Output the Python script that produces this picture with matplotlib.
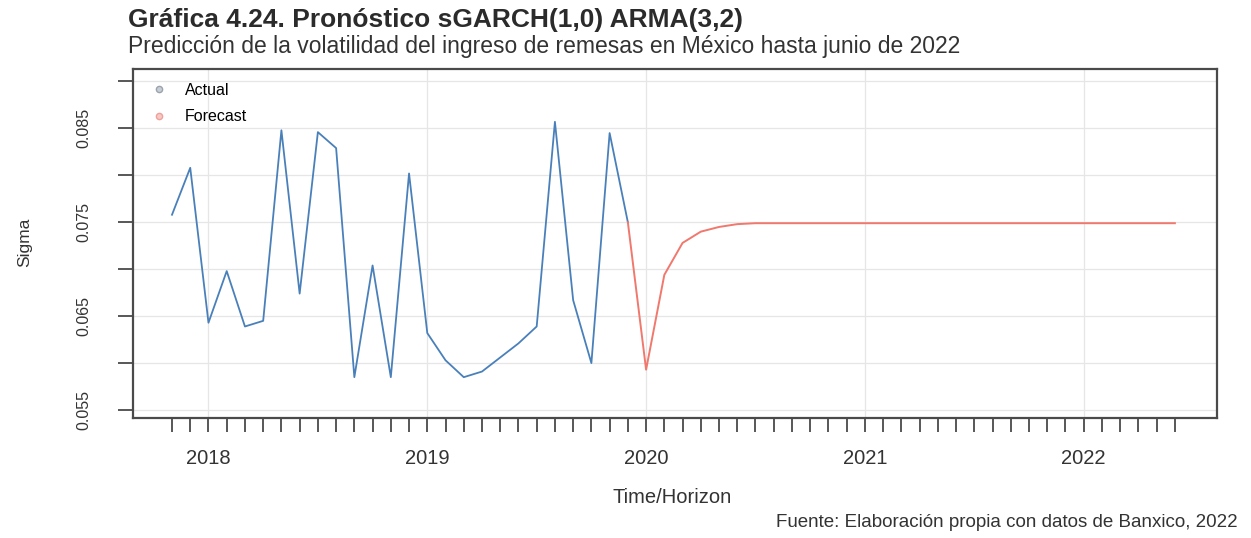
import matplotlib
matplotlib.use("Agg")
import matplotlib.pyplot as plt
from matplotlib.lines import Line2D
from matplotlib.ticker import FixedLocator, FixedFormatter
import pandas as pd

plt.rcParams["font.family"] = ["Liberation Sans", "DejaVu Sans"]

# Estimated conditional volatility (sigma), monthly
actual_start = "2017-11"
actual_sigma = [0.0758, 0.0808, 0.0643, 0.0698, 0.0639, 0.0645, 0.0848, 0.0674,
                0.0846, 0.0829, 0.0585, 0.0704, 0.0585, 0.0802, 0.0632, 0.0603,
                0.0585, 0.0591, 0.0606, 0.0621, 0.0639, 0.0857, 0.0667, 0.0600,
                0.0845, 0.0750]

# sGARCH(1,0) ARMA(3,2) sigma forecast, Jan 2020 - Jun 2022
forecast_start = "2020-01"
forecast_sigma = [0.0593, 0.0694, 0.0728, 0.0740, 0.0745, 0.0748, 0.0749, 0.0749,
                  0.0749, 0.0749, 0.0749, 0.0749, 0.0749, 0.0749, 0.0749, 0.0749,
                  0.0749, 0.0749, 0.0749, 0.0749, 0.0749, 0.0749, 0.0749, 0.0749,
                  0.0749, 0.0749, 0.0749, 0.0749, 0.0749, 0.0749]

year_labels = ["2018", "2019", "2020", "2021", "2022"]
sigma_ticks = [0.055, 0.060, 0.065, 0.070, 0.075, 0.080, 0.085, 0.090]
sigma_labels = ["0.055", "", "0.065", "", "0.075", "", "0.085", ""]

legend_labels = ["Actual", "Forecast"]


def decimal_years(start, n):
    p = pd.period_range(start, periods=n, freq="M")
    return list(p.year + (p.month - 1) / 12.0)


x_act = decimal_years(actual_start, len(actual_sigma))
x_fc = decimal_years(forecast_start, len(forecast_sigma))
# forecast path starts from the last observed value
x_fc_line = [x_act[-1]] + x_fc
y_fc_line = [actual_sigma[-1]] + forecast_sigma

c_act = "#4a80ba"
c_fc = "#f0786d"
c_grid = "#e6e6e6"
c_frame = "#4a4a4a"
c_text = "#333333"

fig = plt.figure(figsize=(12.51, 5.38), dpi=100)
ax = fig.add_axes([0.1063, 0.2230, 0.9728 - 0.1063, 0.8717 - 0.2230])

years = [int(y) for y in year_labels]
for yr in years:
    ax.axvline(yr, color=c_grid, lw=0.9, zorder=0)
for s in sigma_ticks:
    ax.axhline(s, color=c_grid, lw=0.9, zorder=0)

ax.plot(x_act, actual_sigma, color=c_act, lw=1.3, zorder=3)
ax.plot(x_fc_line, y_fc_line, color=c_fc, lw=1.4, zorder=3)

ax.set_xlim(2017.655, 2022.609)
ax.set_ylim(0.05415, 0.09132)

# x axis: monthly ticks across the whole span, year labels
all_months = decimal_years(actual_start, len(actual_sigma) + len(forecast_sigma))
ax.xaxis.set_major_locator(FixedLocator(years))
ax.xaxis.set_major_formatter(FixedFormatter(year_labels))
ax.xaxis.set_minor_locator(FixedLocator(all_months))
ax.tick_params(axis="x", which="both", direction="out", length=10, width=1.3,
               color=c_frame)
ax.tick_params(axis="x", which="major", pad=12, labelsize=14.5, labelcolor=c_text)

ax.yaxis.set_major_locator(FixedLocator(sigma_ticks))
ax.yaxis.set_major_formatter(FixedFormatter(sigma_labels))
ax.tick_params(axis="y", direction="out", length=11, width=1.3, color=c_frame,
               pad=19, labelsize=11.5, labelcolor=c_text)
for lbl in ax.get_yticklabels():
    lbl.set_rotation(90)
    lbl.set_va("center")

for sp in ax.spines.values():
    sp.set_color(c_frame)
    sp.set_linewidth(1.6)

handles = [
    Line2D([], [], linestyle="none", marker="o", markersize=4.5,
           markerfacecolor="#c9ced4", markeredgecolor="#9aa4ae"),
    Line2D([], [], linestyle="none", marker="o", markersize=4.5,
           markerfacecolor="#f8c8c4", markeredgecolor="#f0a09a"),
]
ax.legend(handles, legend_labels, loc="upper left", bbox_to_anchor=(0.017, 0.96),
          frameon=False, fontsize=11.5, handlelength=0.9, handletextpad=1.2,
          labelspacing=0.72, borderpad=0, borderaxespad=0)

fig.text(0.1023, 0.962, "Gráfica 4.24. Pronóstico sGARCH(1,0) ARMA(3,2)",
         fontsize=19, fontweight="bold", color="#2b2b2b", ha="left", va="center")
fig.text(0.1023, 0.914,
         "Predicción de la volatilidad del ingreso de remesas en México hasta junio de 2022",
         fontsize=16.5, color="#333333", ha="left", va="center")

fig.text(0.020, 0.550, "Sigma", rotation=90, fontsize=12.5, color=c_text,
         ha="center", va="center")
fig.text(0.5375, 0.076, "Time/Horizon", fontsize=14.5, color=c_text,
         ha="center", va="center")
fig.text(0.9895, 0.028, "Fuente: Elaboración propia con datos de Banxico, 2022",
         fontsize=13.5, color=c_text, ha="right", va="center")

fig.savefig("out.png", dpi=100, facecolor="white")
